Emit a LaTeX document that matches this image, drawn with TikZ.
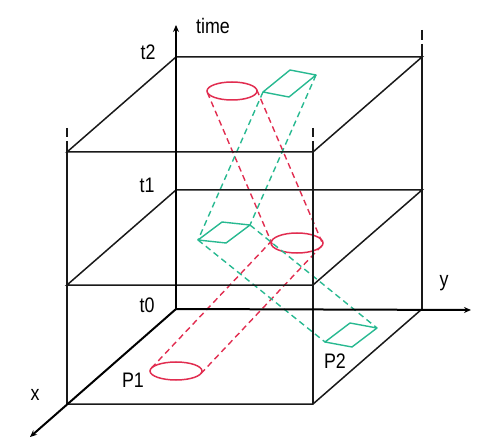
\documentclass[tikz,border=0pt]{standalone}
\usepackage{fontspec}
\setmainfont{Liberation Sans}[FakeStretch=0.85]
\usetikzlibrary{shapes.geometric,arrows.meta,calc}
\definecolor{pred}{RGB}{225,45,80}
\definecolor{pcyan}{RGB}{40,185,145}
\begin{document}
\begin{tikzpicture}[x=1pt,y=-1pt,
  box/.style={line width=1.5pt,black!90},
  axisline/.style={line width=2pt,black,-{Stealth[length=7pt,width=6pt]}},
  tick/.style={line width=1.2pt,black!90},
  lbl/.style={font=\fontsize{21}{23}\selectfont,inner sep=0pt},
  redell/.style={ellipse,draw=pred,line width=1.5pt,inner sep=0pt},
  redline/.style={pred,line width=1.4pt,dash pattern=on 6pt off 4pt},
  cyanshape/.style={pcyan,line width=1.4pt,line join=round},
  cyanline/.style={pcyan,line width=1.4pt,dash pattern=on 6pt off 4pt}]
\useasboundingbox (0,0) rectangle (483,444);
% corners
\coordinate (B0) at (176,309); \coordinate (B1) at (176,190); \coordinate (B2) at (176,57);
\coordinate (R0) at (422,309); \coordinate (R1) at (422,190); \coordinate (R2) at (422,57);
\coordinate (F0) at (67,404);  \coordinate (F1) at (67,285);  \coordinate (F2) at (67,152);
\coordinate (G0) at (313,404); \coordinate (G1) at (313,285); \coordinate (G2) at (313,152);
\coordinate (tEnd) at (176,25);
\coordinate (yEnd) at (471,310);
\coordinate (xEnd) at (30,437);
% red ellipses
\node[redell,minimum width=50pt,minimum height=18pt] (e2) at (232,91) {};
\node[redell,minimum width=52pt,minimum height=20pt] (e1) at (297,243) {};
\node[redell,minimum width=52pt,minimum height=18pt] (e0) at (176,371) {};
% red dashed connectors
\draw[redline] ($(e2.center)+(-24.7,1.4)$) -- ($(e1.center)+(-24.7,1.4)$);
\draw[redline] ($(e2.center)+(24.7,-1.4)$) -- ($(e1.center)+(24.7,-1.4)$);
\draw[redline] ($(e1.center)+(-24.7,-2.8)$) -- ($(e0.center)+(-24.7,-2.8)$);
\draw[redline] ($(e1.center)+(24.7,2.8)$) -- ($(e0.center)+(24.7,2.8)$);
% cyan parallelograms
\coordinate (aL) at (263,92);  \coordinate (aT) at (290,70);  \coordinate (aR) at (316,75);  \coordinate (aB) at (289,97);
\coordinate (bL) at (198,240); \coordinate (bT) at (222,222); \coordinate (bR) at (250,225); \coordinate (bB) at (226,243);
\coordinate (cL) at (325,342); \coordinate (cT) at (350,323); \coordinate (cR) at (377,328); \coordinate (cB) at (352,347);
\draw[cyanshape] (aL) -- (aT) -- (aR) -- (aB) -- cycle;
\draw[cyanshape] (bL) -- (bT) -- (bR) -- (bB) -- cycle;
\draw[cyanshape] (cL) -- (cT) -- (cR) -- (cB) -- cycle;
\draw[cyanline] (aL) -- (bL);
\draw[cyanline] (aR) -- (bR);
\draw[cyanline] (bL) -- (cL);
\draw[cyanline] (bR) -- (cR);
% planes
\draw[box] (B2) -- (R2) -- (G2) -- (F2) -- cycle;
\draw[box] (B1) -- (R1) -- (G1) -- (F1) -- cycle;
\draw[box] (R0) -- (G0) -- (F0);
% verticals
\draw[box] (F2) -- (F0);
\draw[box] (G2) -- (G0);
\draw[box] (R2) -- (R0);
% tick marks above the verticals
\draw[tick] ($(F2)+(0,-24)$) -- ($(F2)+(0,-15)$) ($(F2)+(0,-11)$) -- (F2);
\draw[tick] ($(G2)+(0,-24)$) -- ($(G2)+(0,-15)$) ($(G2)+(0,-11)$) -- (G2);
\draw[tick] ($(R2)+(0,-27)$) -- ($(R2)+(0,-17)$) ($(R2)+(0,-13)$) -- (R2);
% axes
\draw[axisline] (B0) -- (tEnd);
\draw[axisline] (B0) -- (yEnd);
\draw[axisline] (B0) -- (xEnd);
% labels
\node[lbl] (ltime) at (213,26) {time};
\node[lbl] (lt2) at (148,52) {t2};
\node[lbl] (lt1) at (147,185) {t1};
\node[lbl] (lt0) at (147,305) {t0};
\node[lbl] (lx) at (35,395) {x};
\node[lbl] (ly) at (444,283) {y};
\node[lbl] (lp1) at (133,380) {P1};
\node[lbl] (lp2) at (335,361) {P2};
\end{tikzpicture}
\end{document}
